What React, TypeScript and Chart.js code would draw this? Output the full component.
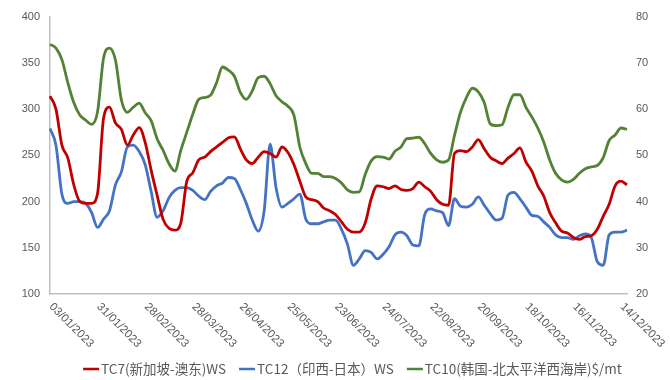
import React, { useEffect, useRef } from 'react';
import { Chart, registerables } from 'chart.js';

Chart.register(...registerables);

// Tick labels on the x axis (one every 20 trading days)
const tickLabels = [
  '03/01/2023', '31/01/2023', '28/02/2023', '28/03/2023', '26/04/2023', '25/05/2023',
  '23/06/2023', '24/07/2023', '22/08/2023', '20/09/2023', '18/10/2023', '16/11/2023', '14/12/2023',
];
const POINTS_PER_TICK = 8;

// TC7 (新加坡-澳东) WS — left axis
const tc7 = [
  314, 300, 261, 247, 218, 200, 198, 198, 209, 290,
  302, 285, 278, 261, 272, 280, 264, 234, 207, 181,
  171, 169, 177, 222, 231, 245, 248, 254, 259, 264,
  269, 270, 257, 245, 241, 248, 254, 252, 248, 259,
  253, 240, 222, 205, 202, 200, 193, 190, 186, 178,
  170, 167, 167, 177, 203, 217, 216, 214, 217, 213,
  212, 214, 221, 216, 211, 202, 197, 196, 252, 255,
  254, 259, 267, 257, 248, 244, 241, 247, 252, 258,
  243, 233, 217, 206, 188, 177, 168, 166, 161, 159,
  162, 163, 170, 184, 197, 217, 222, 218,
];

// TC12 (印西-日本) WS — left axis
const tc12 = [
  279, 261, 208, 198, 200, 200, 198, 188, 172, 181,
  190, 218, 232, 259, 261, 254, 240, 211, 183, 190,
  204, 212, 215, 215, 212, 206, 202, 211, 217, 220,
  226, 225, 213, 198, 180, 168, 190, 262, 215, 194,
  198, 203, 208, 181, 176, 176, 178, 180, 180, 170,
  154, 131, 138, 147, 145, 138, 143, 151, 164, 167,
  163, 153, 152, 186, 192, 190, 188, 174, 203, 195,
  194, 197, 205, 196, 187, 180, 182, 207, 210, 203,
  194, 185, 184, 178, 172, 164, 161, 161, 159, 163,
  165, 161, 135, 131, 164, 167, 167, 169,
];

// TC10 (韩国-北太平洋西海岸) $/mt — right axis
const tc10 = [
  74.0, 73.2, 70.7, 65.7, 61.4, 58.7, 57.6, 56.7, 59.5, 71.0,
  73.2, 70.6, 62.0, 59.3, 60.4, 61.3, 59.2, 57.5, 53.6, 51.1,
  48.2, 46.6, 51.1, 55.0, 58.9, 62.1, 62.5, 63.0, 65.7, 69.1,
  68.4, 67.1, 63.6, 62.1, 63.9, 66.8, 67.1, 65.5, 62.9, 61.6,
  60.6, 58.7, 51.8, 48.2, 46.1, 46.1, 45.4, 45.4, 45.0, 44.0,
  42.5, 42.0, 42.1, 45.9, 48.8, 49.7, 49.6, 49.2, 50.9, 51.8,
  53.6, 53.7, 53.9, 52.5, 50.4, 49.0, 48.5, 49.0, 54.3, 59.3,
  62.5, 64.5, 63.7, 61.4, 56.8, 56.4, 56.6, 60.4, 63.1, 63.1,
  60.4, 58.3, 55.9, 52.9, 49.0, 46.1, 44.7, 44.2, 44.8, 46.1,
  47.1, 47.5, 47.8, 49.5, 53.2, 54.4, 55.9, 55.6,
];

const seriesNames = ['TC7(新加坡-澳东)WS', 'TC12（印西-日本）WS', 'TC10(韩国-北太平洋西海岸)$/mt'];
const seriesColors = ['#C00000', '#4472C4', '#548235'];

const categories = tc7.map((_, i) =>
  i % POINTS_PER_TICK === 0 && tickLabels[i / POINTS_PER_TICK] ? tickLabels[i / POINTS_PER_TICK] : ''
);

const TICK_COLOR = '#595959';
const AXIS_COLOR = '#BFBFBF';

const xLabelPlugin = {
  id: 'rotatedXLabels',
  afterDraw(chart: any) {
    const ctx = chart.ctx;
    const xs = chart.scales.x;
    ctx.save();
    ctx.font = '11.5px "Liberation Sans", Arial, sans-serif';
    ctx.fillStyle = TICK_COLOR;
    ctx.textAlign = 'left';
    ctx.textBaseline = 'middle';
    categories.forEach((lab, i) => {
      if (!lab) return;
      const x = xs.getPixelForValue(i);
      ctx.save();
      ctx.translate(x + 1, xs.top + 11);
      ctx.rotate(Math.PI / 4);
      ctx.fillText(lab, 0, 0);
      ctx.restore();
    });
    ctx.restore();
  },
};

const legendPlugin = {
  id: 'bottomLegend',
  afterDraw(chart: any) {
    const ctx = chart.ctx;
    ctx.save();
    ctx.font = '13.5px "Noto Sans CJK SC", sans-serif';
    const lineW = 16;
    const gapLine = 2;
    const gapItem = 13;
    const items = chart.data.datasets.map((ds: any) => ({
      text: ds.label,
      color: ds.borderColor,
      w: lineW + gapLine + ctx.measureText(ds.label).width,
    }));
    const total = items.reduce((a: number, it: any) => a + it.w, 0) + gapItem * (items.length - 1);
    const ca = chart.chartArea;
    let x = (ca.left + ca.right) / 2 + 14 - total / 2;
    const y = chart.height - 11;
    ctx.textBaseline = 'middle';
    ctx.textAlign = 'left';
    items.forEach((it: any) => {
      ctx.strokeStyle = it.color;
      ctx.lineWidth = 2.5;
      ctx.beginPath();
      ctx.moveTo(x, y);
      ctx.lineTo(x + lineW, y);
      ctx.stroke();
      ctx.fillStyle = TICK_COLOR;
      ctx.fillText(it.text, x + lineW + gapLine, y);
      x += it.w + gapItem;
    });
    ctx.restore();
  },
};

export default function App() {
  const canvasRef = useRef<HTMLCanvasElement | null>(null);

  useEffect(() => {
    if (!canvasRef.current) return;
    const tickFont = { family: '"Liberation Sans", Arial, sans-serif', size: 11 };
    const chart = new Chart(canvasRef.current, {
      type: 'line',
      data: {
        labels: categories,
        datasets: [
          { label: seriesNames[0], data: tc7, borderColor: seriesColors[0], backgroundColor: seriesColors[0], yAxisID: 'y' },
          { label: seriesNames[1], data: tc12, borderColor: seriesColors[1], backgroundColor: seriesColors[1], yAxisID: 'y' },
          { label: seriesNames[2], data: tc10, borderColor: seriesColors[2], backgroundColor: seriesColors[2], yAxisID: 'y1' },
        ],
      },
      options: {
        responsive: false,
        animation: false,
        devicePixelRatio: 1,
        layout: { padding: { top: 13, left: 0, right: 0, bottom: 0 } },
        plugins: { legend: { display: false }, tooltip: { enabled: false } },
        elements: {
          point: { radius: 0 },
          line: { borderWidth: 2.8, tension: 0.4, cubicInterpolationMode: 'monotone' },
        },
        scales: {
          x: {
            type: 'category',
            offset: false,
            grid: { display: false, drawTicks: false },
            border: { display: true, color: AXIS_COLOR, width: 1.5 },
            ticks: { display: false, autoSkip: false },
            afterFit: (s: any) => { s.height = 86; },
          },
          y: {
            position: 'left',
            min: 100,
            max: 400,
            ticks: { stepSize: 50, color: TICK_COLOR, font: tickFont, padding: 10 },
            grid: { display: false, drawTicks: false },
            border: { display: true, color: AXIS_COLOR, width: 1.5 },
            afterFit: (s: any) => { s.width = 50; },
          },
          y1: {
            position: 'right',
            min: 20,
            max: 80,
            ticks: { stepSize: 10, color: TICK_COLOR, font: tickFont, padding: 9 },
            grid: { display: false, drawTicks: false },
            border: { display: false },
            afterFit: (s: any) => { s.width = 43; },
          },
        },
      } as any,
      plugins: [xLabelPlugin, legendPlugin],
    });
    return () => chart.destroy();
  }, []);

  return (
    <div style={{ position: 'fixed', left: 0, top: 0, width: 670, height: 380, background: '#fff' }}>
      <canvas ref={canvasRef} width={670} height={380} style={{ display: 'block' }} />
    </div>
  );
}
